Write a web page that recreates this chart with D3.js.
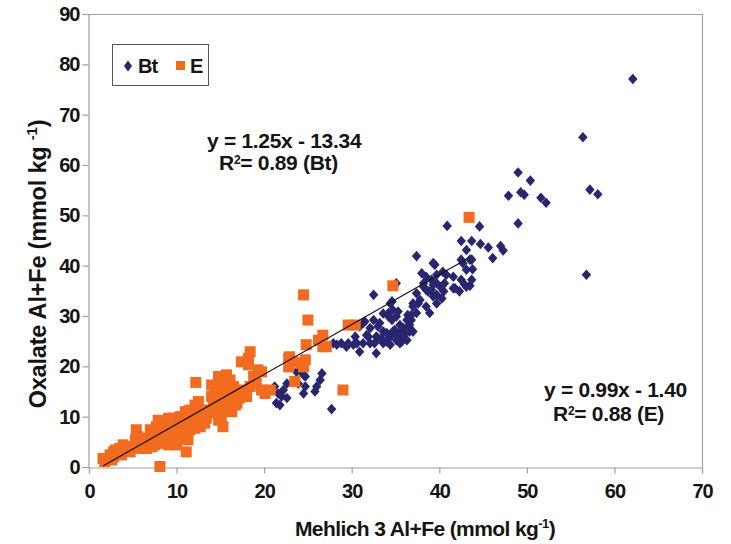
<!DOCTYPE html>
<html>
<head>
<meta charset="utf-8">
<script src="https://cdn.jsdelivr.net/npm/d3@7/dist/d3.min.js"></script>
<style>
  html, body { margin: 0; padding: 0; background: #fff; }
  svg { display: block; font-family: "Liberation Sans", Arial, Helvetica, sans-serif; }
</style>
</head>
<body>
<svg id="chart" width="731" height="544"></svg>
<script>
// Mehlich 3 Al+Fe (x) vs oxalate Al+Fe (y), mmol/kg, by horizon
const btPoints = [
  [21.2,16.0],[21.4,12.7],[21.6,14.6],[21.8,12.3],[22.0,14.0],[22.2,15.3],[22.6,13.7],[22.6,16.6],
  [23.7,18.9],[23.9,16.6],[24.1,19.3],[24.5,18.3],[24.5,14.6],[24.7,16.0],[24.7,18.0],[25.8,15.0],
  [26.0,16.0],[26.4,17.3],[26.6,18.6],[27.7,11.5],[27.9,24.6],[28.3,24.3],[28.8,24.6],[29.4,23.9],
  [29.6,24.6],[30.2,24.3],[30.4,25.9],[30.6,24.6],[30.9,22.9],[30.9,27.9],[31.3,24.6],[31.3,28.6],
  [31.5,28.9],[31.7,26.2],[31.9,25.9],[32.1,24.6],[32.1,27.6],[32.5,29.2],[32.5,34.2],[32.6,24.6],
  [32.8,22.6],[32.8,25.9],[33.0,27.9],[33.0,25.6],[33.2,28.6],[33.4,25.6],[33.6,26.9],[33.6,24.6],
  [33.6,30.5],[34.0,24.9],[34.0,26.6],[34.2,30.6],[34.2,29.9],[34.4,32.5],[34.4,24.3],[34.4,25.9],
  [34.6,29.2],[34.6,32.9],[34.7,31.2],[34.7,26.9],[34.9,27.2],[35.1,29.9],[35.1,36.5],[35.1,25.2],
  [35.3,26.2],[35.3,30.9],[35.5,28.2],[35.5,24.6],[35.5,26.6],[35.7,24.9],[35.9,26.2],[35.9,27.6],
  [36.3,27.2],[36.3,29.2],[36.3,25.2],[36.4,30.2],[36.5,27.9],[36.6,28.2],[36.6,26.9],[36.8,29.2],
  [36.8,30.2],[37.0,26.9],[37.0,32.5],[37.0,31.9],[37.4,30.6],[37.4,34.5],[37.4,41.9],[37.6,32.5],
  [37.8,33.2],[38.0,38.5],[38.2,35.8],[38.2,36.5],[38.5,31.9],[38.5,37.8],[38.5,35.2],[38.7,34.9],
  [38.9,30.6],[39.1,37.2],[39.1,35.2],[39.3,33.9],[39.3,36.2],[39.3,40.5],[39.5,40.2],[39.7,32.5],
  [39.7,34.2],[39.7,36.5],[39.7,38.2],[40.1,35.8],[40.3,33.5],[40.4,38.8],[40.5,34.9],[40.6,36.5],
  [40.8,38.2],[40.9,47.9],[41.6,37.8],[41.6,35.5],[41.8,35.5],[42.3,34.9],[42.5,41.2],[42.5,44.9],
  [42.5,37.2],[42.7,40.5],[42.9,36.2],[43.1,43.1],[43.1,39.2],[43.1,35.8],[43.5,41.2],[43.5,36.0],
  [43.7,44.9],[43.7,37.2],[43.7,41.2],[43.8,39.3],[44.6,47.8],[44.7,44.3],[45.6,43.6],[46.1,41.5],
  [47.0,43.9],[47.3,43.0],[47.9,53.9],[49.0,58.5],[49.0,48.4],[49.3,54.6],[49.7,54.1],[50.4,56.9],
  [51.6,53.5],[52.2,52.5],[56.4,65.5],[56.8,38.2],[57.2,55.1],[58.1,54.2],[62.1,77.1]
];

const ePoints = [
  [1.6,1.7],[1.8,1.1],[2.4,2.4],[2.6,1.4],[2.8,2.0],[2.8,3.0],[3.0,3.4],[3.2,2.7],[3.5,3.7],[3.7,2.4],
  [3.9,4.4],[4.3,4.0],[4.7,3.0],[5.3,5.4],[5.4,7.4],[5.4,3.7],[5.6,6.0],[5.8,5.4],[6.0,4.7],[6.2,3.7],
  [6.4,5.7],[6.6,3.7],[6.8,4.7],[7.0,7.4],[7.2,4.0],[7.3,5.4],[7.5,4.4],[7.7,8.0],[7.7,6.0],[7.9,9.3],
  [8.1,6.0],[8.1,0.1],[8.3,8.3],[8.3,4.7],[8.5,7.0],[8.7,5.4],[8.9,5.4],[9.1,4.4],[9.1,9.7],[9.2,9.0],
  [9.2,7.4],[9.6,9.7],[9.6,5.4],[9.8,8.0],[10.0,4.4],[10.2,7.0],[10.4,6.0],[10.4,9.0],[10.4,10.0],[10.6,6.0],
  [10.8,5.7],[11.0,11.0],[11.0,10.3],[11.1,3.0],[11.1,8.0],[11.3,5.4],[11.5,7.4],[11.5,9.7],[11.5,11.3],[11.9,10.3],
  [12.1,12.3],[12.1,7.7],[12.2,16.8],[12.3,10.0],[12.5,13.0],[12.7,8.0],[12.9,11.3],[13.0,10.3],[13.2,8.7],[13.4,9.7],
  [13.6,11.0],[13.8,11.3],[14.0,14.0],[14.0,16.3],[14.2,13.3],[14.4,13.0],[14.4,15.3],[14.6,10.7],[14.8,9.3],[14.8,17.0],
  [14.8,18.0],[15.0,12.0],[15.0,14.0],[15.1,10.0],[15.1,16.3],[15.3,8.0],[15.3,15.3],[15.5,14.3],[15.7,18.3],[15.7,13.3],
  [15.7,12.0],[15.9,15.6],[16.1,17.3],[16.1,11.3],[16.3,14.3],[16.3,11.0],[16.5,16.0],[16.7,12.3],[16.9,12.7],[16.9,14.6],
  [17.2,13.7],[17.4,20.9],[17.6,15.3],[17.8,14.6],[18.0,14.0],[18.2,21.6],[18.2,20.3],[18.4,22.9],[18.4,16.0],[18.8,18.0],
  [18.9,17.3],[19.1,16.6],[19.3,19.3],[19.7,18.9],[19.7,15.3],[20.1,14.6],[20.7,15.3],[22.8,21.6],[22.9,21.9],[22.8,19.9],
  [23.3,20.9],[23.5,17.0],[24.2,20.6],[24.5,19.9],[24.5,34.2],[24.7,21.3],[24.8,24.3],[25.0,29.2],[26.2,25.2],[26.7,26.2],
  [26.7,23.9],[27.1,23.9],[29.0,15.3],[29.6,28.2],[30.4,28.2],[34.7,36.0],[43.4,49.6]
];

const xTicks = [0, 10, 20, 30, 40, 50, 60, 70];
const yTicks = [0, 10, 20, 30, 40, 50, 60, 70, 80, 90];

// Fitted lines reported for each horizon: [slope, intercept, R²]
const btFit = [1.25, -13.34, 0.89];
const eFit = [0.99, -1.40, 0.88];

const BT_COLOR = "#27266f";
const E_COLOR = "#f26b1f";
const AXIS_COLOR = "#a0a0a0";
const TEXT_COLOR = "#141414";

const svg = d3.select("#chart");
const plot = { left: 89, right: 702, top: 14, bottom: 467 };

const x = d3.scaleLinear().domain([0, 70]).range([plot.left, plot.right]);
const y = d3.scaleLinear().domain([0, 90]).range([plot.bottom, plot.top]);

// Plot frame: top and right edges
svg.append("path")
  .attr("d", `M${plot.left},${plot.top + 0.5}H${plot.right + 0.5}V${plot.bottom}`)
  .attr("fill", "none").attr("stroke", AXIS_COLOR).attr("stroke-width", 1.2);

// Axes
const xAxis = svg.append("g")
  .attr("transform", `translate(0,${plot.bottom + 0.5})`)
  .call(d3.axisBottom(x).tickValues(xTicks).tickSize(6).tickPadding(10).tickFormat(d3.format("d")));
const yAxis = svg.append("g")
  .attr("transform", `translate(${plot.left - 0.5},0)`)
  .call(d3.axisLeft(y).tickValues(yTicks).tickSize(6).tickPadding(3).tickFormat(d3.format("d")));

[xAxis, yAxis].forEach(g => {
  g.select(".domain").attr("stroke", AXIS_COLOR).attr("stroke-width", 1.2);
  g.selectAll(".tick line").attr("stroke", AXIS_COLOR).attr("stroke-width", 1.2);
  g.selectAll(".tick text")
    .attr("fill", TEXT_COLOR)
    .style("font-family", '"Liberation Sans", Arial, sans-serif')
    .style("font-size", "20px")
    .style("font-weight", "bold")
    .style("letter-spacing", "-1px");
});

// Markers
const diamond = (w, h) => `M0,${-h}L${w},0L0,${h}L${-w},0Z`;

svg.append("g").selectAll("path")
  .data(btPoints)
  .join("path")
  .attr("d", diamond(4.7, 5.3))
  .attr("transform", d => `translate(${x(d[0])},${y(d[1])})`)
  .attr("fill", BT_COLOR);

const sq = 11;
svg.append("g").selectAll("rect")
  .data(ePoints)
  .join("rect")
  .attr("x", d => x(d[0]) - sq / 2)
  .attr("y", d => y(d[1]) - sq / 2)
  .attr("width", sq).attr("height", sq)
  .attr("fill", E_COLOR);

// Trend line over the E horizon range
const eExt = d3.extent(ePoints, d => d[0]);
const line = d3.line().x(d => x(d[0])).y(d => y(d[1]));
svg.append("path")
  .datum(eExt.map(v => [v, eFit[0] * v + eFit[1]]))
  .attr("d", line)
  .attr("fill", "none")
  .attr("stroke", "#111")
  .attr("stroke-width", 1.2);

// Legend
const legend = svg.append("g");
legend.append("rect")
  .attr("x", 112.5).attr("y", 44.5).attr("width", 96).attr("height", 41)
  .attr("fill", "#fff").attr("stroke", "#555").attr("stroke-width", 1);
legend.append("path").attr("d", diamond(4, 5.5)).attr("transform", "translate(128,66)").attr("fill", BT_COLOR);
legend.append("text").attr("x", 138).attr("y", 73).text("Bt")
  .style("font-size", "20px").style("font-weight", "bold").style("letter-spacing", "-1px").attr("fill", TEXT_COLOR);
legend.append("rect").attr("x", 176).attr("y", 61).attr("width", 9).attr("height", 9).attr("fill", E_COLOR);
legend.append("text").attr("x", 190).attr("y", 73).text("E")
  .style("font-size", "20px").style("font-weight", "bold").attr("fill", TEXT_COLOR);

// Fit annotations
function fitLabel(x0, y0, x1, y1, fit, tag) {
  const sign = fit[1] < 0 ? "-" : "+";
  const eq = `y = ${fit[0].toFixed(2)}x ${sign} ${Math.abs(fit[1]).toFixed(2)}`;
  svg.append("text").attr("x", x0).attr("y", y0).text(eq)
    .style("font-size", "21px").style("font-weight", "bold").style("letter-spacing", "-0.3px")
    .attr("fill", TEXT_COLOR);
  const t = svg.append("text").attr("x", x1).attr("y", y1)
    .style("font-size", "21px").style("font-weight", "bold").style("letter-spacing", "-0.3px")
    .attr("fill", TEXT_COLOR);
  t.append("tspan").text("R");
  t.append("tspan").attr("dy", -6).style("font-size", "12px").text("2");
  t.append("tspan").attr("dy", 6).text(`= ${fit[2].toFixed(2)} (${tag})`);
}
fitLabel(207, 148, 219, 170, btFit, "Bt");
fitLabel(544, 397, 553, 421, eFit, "E");

// Axis titles
const xt = svg.append("text")
  .attr("x", 425).attr("y", 536).attr("text-anchor", "middle")
  .style("font-size", "21px").style("font-weight", "bold").style("letter-spacing", "-0.6px")
  .attr("fill", TEXT_COLOR);
xt.append("tspan").text("Mehlich 3 Al+Fe (mmol kg");
xt.append("tspan").attr("dy", -8).style("font-size", "13px").text("-1");
xt.append("tspan").attr("dy", 8).text(")");

const yt = svg.append("text")
  .attr("transform", "translate(46,264) rotate(-90)")
  .attr("text-anchor", "middle")
  .style("font-size", "23.5px").style("font-weight", "bold").style("letter-spacing", "-0.2px")
  .attr("fill", TEXT_COLOR);
yt.append("tspan").text("Oxalate Al+Fe (mmol kg ");
yt.append("tspan").attr("dy", -9).style("font-size", "15px").text("-1");
yt.append("tspan").attr("dy", 9).text(")");
</script>
</body>
</html>
